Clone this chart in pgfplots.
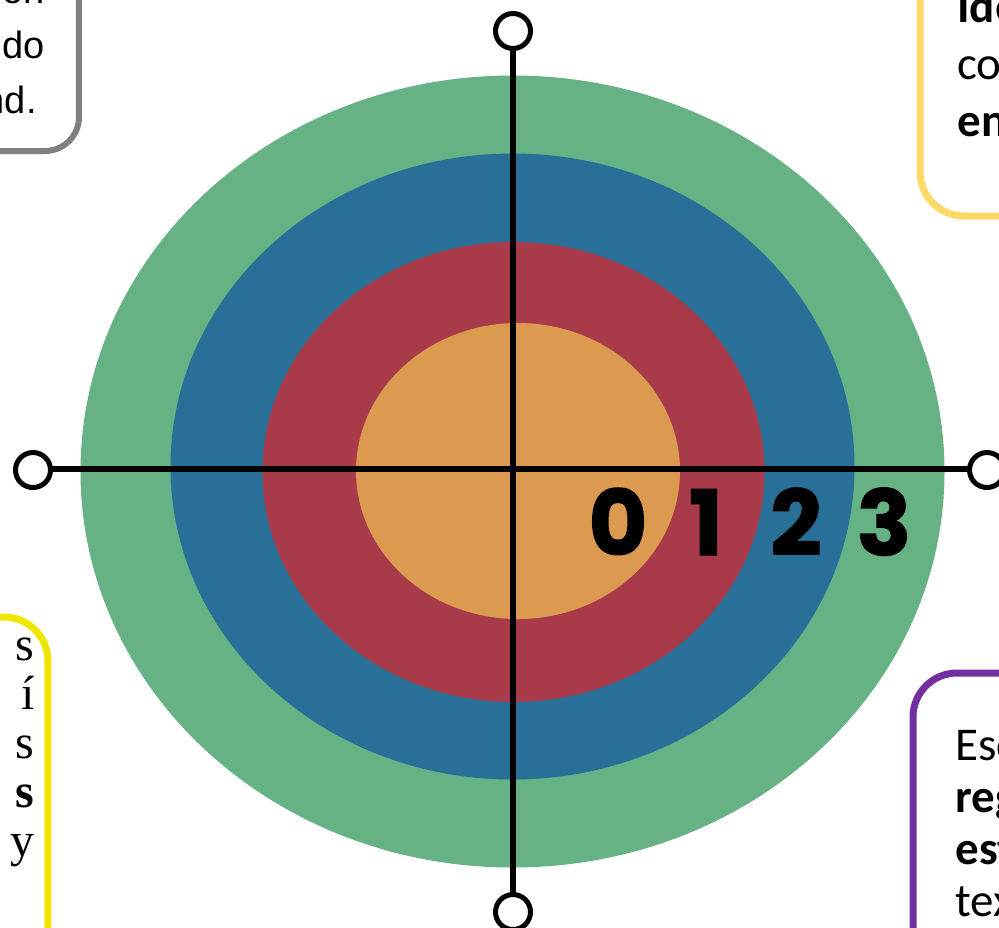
\documentclass[border=0pt]{standalone}
\usepackage{pgfplots}
\pgfplotsset{compat=1.18}
\usepackage{fontspec}
\setmainfont{Liberation Sans}
\newfontfamily\calfont{Carlito}
\newfontfamily\seriffont{Liberation Serif}
\newfontfamily\popfont{Poppins}[BoldFeatures={FakeBold=1.6}]
\definecolor{cgreen}{RGB}{102,178,132}
\definecolor{cblue}{RGB}{41,112,153}
\definecolor{cred}{RGB}{168,58,74}
\definecolor{corange}{RGB}{219,154,79}
\definecolor{cgray}{RGB}{128,128,128}
\definecolor{cyel}{RGB}{255,217,102}
\definecolor{cyel2}{RGB}{238,230,0}
\definecolor{cpurple}{RGB}{112,48,160}
\begin{document}
\begin{tikzpicture}
\path[use as bounding box] (0,0) rectangle (499.5pt,463.5pt);
\clip (0,0) rectangle (499.5pt,463.5pt);
\begin{axis}[at={(0,0)}, anchor=south west, scale only axis,
  width=499.5pt, height=463.5pt, xmin=0, xmax=999, ymin=0, ymax=927,
  y dir=reverse, hide axis, clip=false]
% rings
\fill[cgreen] (axis cs:512.5,471.5) ellipse [x radius=432, y radius=396];
\fill[cblue] (axis cs:512.5,466.5) ellipse [x radius=342, y radius=313];
\fill[cred] (axis cs:513.5,472) ellipse [x radius=251, y radius=230];
\fill[corange] (axis cs:518,471) ellipse [x radius=162, y radius=148];
% axes lines
\addplot[black, line width=3pt] coordinates {(33,469) (987,469)};
\addplot[black, line width=3pt] coordinates {(513,31) (513,912)};
\addplot[only marks, mark=*, mark size=8.75pt,
  mark options={fill=white, draw=black, line width=2.5pt}]
  coordinates {(33,470) (987,470) (513,31) (513,912)};
% numbers
\foreach \xx/\lab in {618/0, 706/1, 796/2, 884/3}{
  \edef\tmp{\noexpand\node[anchor=base, inner sep=0pt, font=\noexpand\popfont\noexpand\bfseries\noexpand\fontsize{45pt}{45pt}\noexpand\selectfont] at (axis cs:\xx,555) {\lab};}
  \tmp
}
% boxes
\draw[cgray, line width=3pt, rounded corners=17pt] (axis cs:-200,-200) rectangle (axis cs:79,151);
\draw[cyel, line width=3.5pt, rounded corners=22pt] (axis cs:920,-200) rectangle (axis cs:1200,216);
\draw[cyel2, line width=3.5pt, rounded corners=22pt] (axis cs:-200,617) rectangle (axis cs:48,1200);
\draw[cpurple, line width=3.5pt, rounded corners=22pt] (axis cs:913,673) rectangle (axis cs:1200,1200);
% texts
\begin{scope}[every node/.style={inner sep=0pt, font=\fontsize{19pt}{23pt}\selectfont}]
\node[anchor=base east] at (axis cs:45,3) {ón};
\node[anchor=base east] at (axis cs:45,58) {do};
\node[anchor=base east] at (axis cs:37,113) {nd.};
\end{scope}
\begin{scope}[every node/.style={inner sep=0pt, font=\calfont\fontsize{23.5pt}{28pt}\selectfont}]
\node[anchor=base west] at (axis cs:957,22) {\bfseries Ide};
\node[anchor=base west] at (axis cs:957,79) {co};
\node[anchor=base west] at (axis cs:957,136) {\bfseries en};
\node[anchor=base west] at (axis cs:955,760) {Esc};
\node[anchor=base west] at (axis cs:955,812) {\bfseries reg};
\node[anchor=base west] at (axis cs:955,864) {\bfseries est};
\node[anchor=base west] at (axis cs:955,916) {tex};
\end{scope}
\begin{scope}[every node/.style={inner sep=0pt, font=\seriffont\fontsize{24pt}{28pt}\selectfont}]
\node[anchor=base east] at (axis cs:35,660) {s};
\node[anchor=base east] at (axis cs:35,709) {í};
\node[anchor=base east] at (axis cs:35,758) {s};
\node[anchor=base east] at (axis cs:35,807) {\bfseries s};
\node[anchor=base east] at (axis cs:35,856) {y};
\end{scope}
\end{axis}
\end{tikzpicture}
\end{document}
